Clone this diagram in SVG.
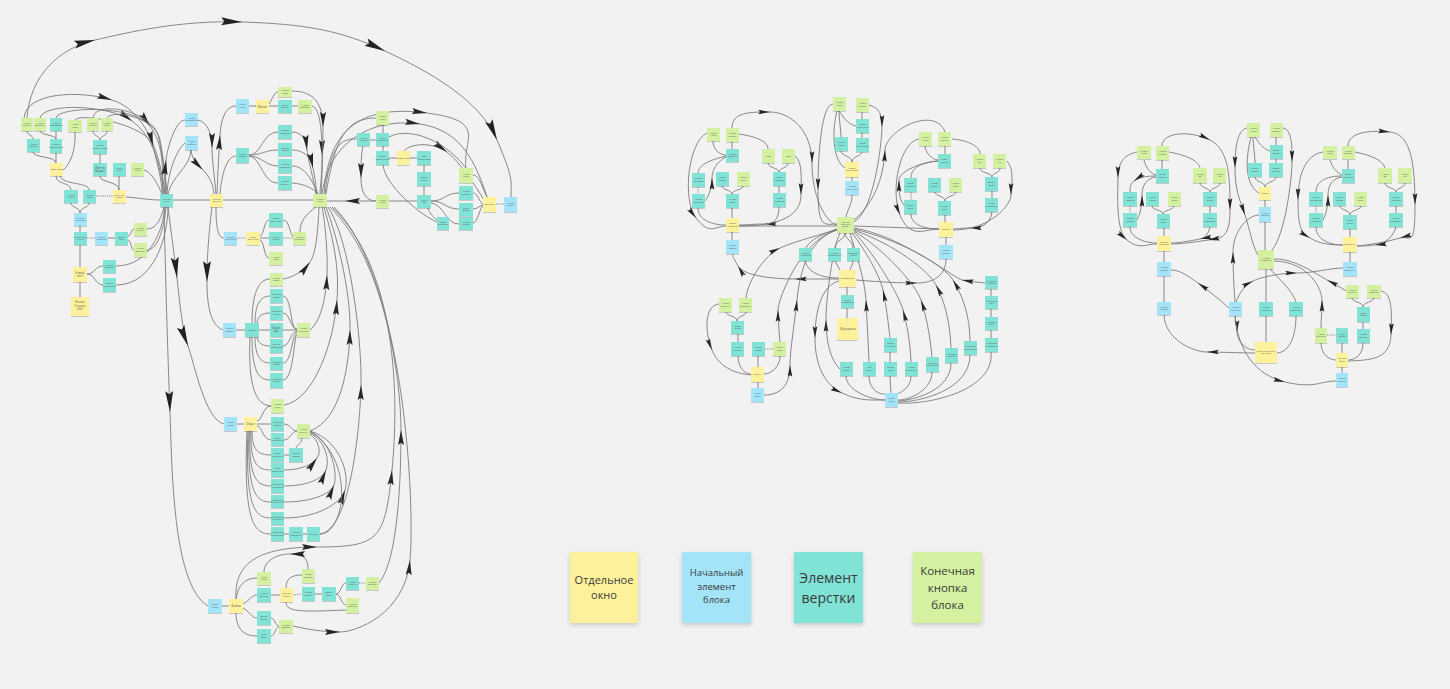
<svg xmlns="http://www.w3.org/2000/svg" width="1450" height="689" viewBox="0 0 1450 689">
<defs>
<style>
text{font-family:"Open Sans","Liberation Sans",sans-serif;font-size:2px;fill:#555;text-anchor:middle}
.y{fill:#fdf29b}.b{fill:#a3e4f9}.t{fill:#81e2d6}.g{fill:#d4f0a1}
.n rect{filter:url(#sh)}
.c{fill:none;stroke:#7c7c7c;stroke-width:0.9}
.d{stroke-dasharray:1.2 1}
.a{marker-mid:url(#am)}
.m{marker-mid:url(#amd)}
.A{marker-mid:url(#aM)}
.lg rect{filter:url(#sh2)}
.lg text{fill:#3a3a3a}
</style>
<filter id="sh" x="-20%" y="-20%" width="140%" height="150%"><feDropShadow dx="0" dy="0.8" stdDeviation="0.5" flood-color="#000" flood-opacity="0.22"/></filter>
<filter id="sh2" x="-20%" y="-20%" width="140%" height="140%"><feDropShadow dx="0" dy="2" stdDeviation="2" flood-color="#000" flood-opacity="0.18"/></filter>
<marker id="am" viewBox="-11 -3 12 6" refX="0" refY="0" markerWidth="14" markerHeight="7" markerUnits="userSpaceOnUse" orient="auto"><path d="M0,0 L-10,-2 L-8.5,0 L-10,2 Z" fill="#262626"/></marker>
<marker id="amd" viewBox="-11 -3 12 6" refX="0" refY="0" markerWidth="18" markerHeight="9" markerUnits="userSpaceOnUse" orient="auto"><path d="M0,0 L-10,-2 L-8.5,0 L-10,2 Z" fill="#262626"/></marker>
<marker id="aM" viewBox="-11 -3 12 6" refX="0" refY="0" markerWidth="25" markerHeight="12.5" markerUnits="userSpaceOnUse" orient="auto"><path d="M0,0 L-10,-1.9 L-8.5,0 L-10,1.9 Z" fill="#222"/></marker>
</defs>
<rect width="1450" height="689" fill="#f2f2f2"/>

<g id="connectors">
<!-- LEFT TREE -->
<path class="c A" d="M27,118 C30,75 60,48 95,40 S180,20 242,22 S340,30 385,51 S480,100 497,140 S511,180 511,197"/>
<path class="c m" d="M24,118 C26,92 80,90 112,100 S160,150 165,194"/>
<path class="c m" d="M40,118 C44,102 110,105 132,121 S160,165 164,194"/>
<path class="c m" d="M56,118 C58,106 135,105 150,126 S162,170 163,194"/>
<path class="c m" d="M75,120 C80,112 148,125 153,146 S162,180 162,194"/>
<path class="c" d="M93,118 C95,100 150,110 158,135 C162,150 165,175 166,194"/>
<path class="c" d="M107,118 C110,110 155,115 160,140 C163,155 166,180 167,194"/>
<path class="c" d="M27,131 C27,135 33,135 33,139"/>
<path class="c" d="M40,131 C40,135 56,135 56,139"/>
<path class="c" d="M56,131 L56,139"/>
<path class="c" d="M33,152 C33,158 56,156 56,163"/>
<path class="c" d="M56,153 L56,163"/>
<path class="c" d="M93,131 C93,136 100,136 100,140"/>
<path class="c" d="M107,131 C107,136 100,136 100,140"/>
<path class="c" d="M100,154 L100,163"/>
<path class="c" d="M100,176 C100,183 119,181 119,190"/>
<path class="c" d="M119,176 L119,190"/>
<path class="c" d="M144,170 C152,172 158,185 162,194"/>
<path class="c" d="M75,132 C76,150 70,165 63,170"/>
<path class="c" d="M56,176 C56,185 71,182 71,190"/>
<path class="c" d="M60,176 C62,185 89,182 89,190"/>
<path class="c d" d="M96,196 L113,196"/>
<path class="c" d="M126,197 C140,198 150,200 160,200"/>
<path class="c" d="M71,203 C71,208 80,207 80,213"/>
<path class="c" d="M89,203 C89,208 80,207 80,213"/>
<path class="c" d="M80,226 L80,232"/>
<path class="c d" d="M87,238 L95,238"/>
<path class="c" d="M108,238 L115,238"/>
<path class="c" d="M128,236 C131,236 131,229 134,229"/>
<path class="c" d="M128,240 C131,240 131,250 134,250"/>
<path class="c" d="M147,229 C158,229 162,215 164,207"/>
<path class="c" d="M147,250 C160,250 165,220 166,207"/>
<path class="c" d="M80,267 L80,245"/>
<path class="c" d="M80,297 L80,282"/>
<path class="c" d="M87,274 C95,274 95,266 103,266"/>
<path class="c" d="M87,274 C95,274 95,285 103,285"/>
<path class="c" d="M116,266 C150,266 163,230 165,207"/>
<path class="c" d="M116,285 C155,285 168,235 168,207"/>
<path class="c" d="M173,200 L210,200"/>
<path class="c" d="M223,200 L313,200"/>
<path class="c m" d="M376,201 L345,201 L327,201"/>
<path class="c m" d="M165,194 C165,180 165,170 166,160 S175,120 185,120"/>
<path class="c" d="M167,194 C168,170 178,148 185,143"/>
<path class="c m" d="M198,120 C208,122 212,135 212,148 S215,180 216,194"/>
<path class="c m" d="M191,150 C192,160 198,165 203,170 S213,182 214,194"/>
<path class="c" d="M191,150 C190,168 172,175 168,194"/>
<path class="c m" d="M217,194 C218,170 219,150 220,135 S225,106 236,106"/>
<path class="c" d="M220,194 C222,170 228,156 236,156"/>
<path class="c" d="M249,106 L256,106"/>
<path class="c" d="M269,106 L278,106"/>
<path class="c" d="M269,104 C272,100 274,92 278,92"/>
<path class="c" d="M292,106 L298,106"/>
<path class="c m" d="M312,106 C320,108 322,130 322,155 S320,185 320,194"/>
<path class="c m" d="M292,91 C315,91 323,105 323,127 S322,180 321,194"/>
<path class="c" d="M249,155 C262,155 262,132 278,132"/>
<path class="c" d="M249,155 C262,155 265,150 278,150"/>
<path class="c" d="M249,156 C262,156 265,166 278,166"/>
<path class="c" d="M249,156 C262,158 262,183 278,183"/>
<path class="c m" d="M292,132 C302,132 306,140 307,150 S314,180 316,194"/>
<path class="c m" d="M292,150 C305,150 311,158 313,168 S316,185 317,194"/>
<path class="c" d="M292,166 C305,166 312,180 318,194"/>
<path class="c" d="M292,183 C305,184 312,188 318,194"/>
<path class="c" d="M326,194 C335,140 345,118 376,118"/>
<path class="c" d="M325,194 C330,150 338,138 357,139"/>
<path class="c m" d="M324,194 C328,125 365,105 427,113 S462,140 466,168"/>
<path class="c m" d="M322,194 C330,135 380,118 420,124 S475,160 487,197"/>
<path class="c m" d="M404,151 C412,142 435,143 447,152 S475,185 484,200"/>
<path class="c" d="M389,137 C405,128 440,135 466,168"/>
<path class="c" d="M383,125 L383,133"/>
<path class="c" d="M370,140 L376,140"/>
<path class="c m" d="M363,146 C361,155 361,165 361,178 S365,201 376,201"/>
<path class="c" d="M383,146 L383,151"/>
<path class="c" d="M389,158 L397,158"/>
<path class="c" d="M410,158 L417,158"/>
<path class="c" d="M424,172 L424,165"/>
<path class="c" d="M424,186 L424,195"/>
<path class="c" d="M389,201 L417,201"/>
<path class="c" d="M431,201 C445,201 445,193 459,193"/>
<path class="c" d="M431,201 C445,201 445,209 459,209"/>
<path class="c" d="M431,203 C445,205 445,224 459,224"/>
<path class="c" d="M428,208 C430,215 434,217 437,220"/>
<path class="c" d="M473,193 C478,193 480,204 483,204"/>
<path class="c" d="M473,209 C478,209 480,205 483,205"/>
<path class="c" d="M473,223 C478,223 480,206 483,206"/>
<path class="c" d="M473,175 C480,175 483,190 487,197"/>
<path class="c d" d="M496,204 L504,204"/>
<path class="c" d="M383,165 C385,185 420,215 437,222"/>
<path class="c" d="M316,207 C305,215 300,222 300,232"/>
<path class="c m" d="M283,279 C295,277 304,270 310,262 S318,230 319,207"/>
<path class="c m" d="M310,330 C322,320 326,295 327,275 S325,220 322,207"/>
<path class="c m" d="M284,405 C315,400 334,340 337,300 S330,230 324,207"/>
<path class="c m" d="M310,431 C340,420 349,370 350,330 S335,230 326,207"/>
<path class="c m" d="M320,534 C350,530 360,430 361,385 S350,240 328,207"/>
<path class="c m" d="M379,583 C398,560 401,480 401,430 S385,260 330,207"/>
<path class="c m" d="M236,599 C234,565 255,547 317,547 S385,540 392,470 S398,270 332,207"/>
<path class="c m" d="M293,626 C310,630 325,632 340,632 S405,615 410,560 S405,280 334,207"/>
<path class="c A" d="M168,207 C172,240 175,260 177,278 S182,330 188,346 S205,420 224,424"/>
<path class="c A" d="M164,207 C166,300 168,360 170,412 S172,585 208,606"/>
<path class="c A" d="M212,207 C208,240 207,260 207,282 S210,325 223,330"/>
<path class="c" d="M216,207 C216,228 218,238 224,238"/>
<path class="c d" d="M237,238 L246,238"/>
<path class="c" d="M260,236 C264,236 264,220 269,220"/>
<path class="c" d="M260,238 L269,238"/>
<path class="c" d="M260,240 C264,240 264,258 269,258"/>
<path class="c" d="M283,220 C290,220 290,236 293,236"/>
<path class="c d" d="M283,238 L293,238"/>
<path class="c" d="M236,330 L245,330"/>
<path class="c" d="M259,330 L270,330"/>
<path class="c" d="M252,323 C252,295 258,279 270,279"/>
<path class="c" d="M255,323 C255,305 260,296 270,296"/>
<path class="c" d="M257,323 C258,316 262,313 270,313"/>
<path class="c" d="M257,337 C258,343 262,346 270,346"/>
<path class="c" d="M255,337 C255,355 260,363 270,363"/>
<path class="c" d="M252,337 C252,370 258,380 270,380"/>
<path class="c" d="M250,337 C248,385 255,405 271,406"/>
<path class="c" d="M283,296 C292,296 290,330 297,330"/>
<path class="c" d="M283,313 C290,313 290,328 297,329"/>
<path class="c" d="M283,330 L297,330"/>
<path class="c" d="M283,346 C290,346 290,332 297,331"/>
<path class="c" d="M283,363 C292,363 292,333 297,332"/>
<path class="c" d="M283,380 C294,380 294,334 297,334"/>
<path class="c" d="M237,424 L244,424"/>
<path class="c" d="M257,421 C262,421 263,406 271,406"/>
<path class="c" d="M257,424 L271,424"/>
<path class="c" d="M257,426 C262,426 263,440 271,440"/>
<path class="c" d="M252,431 C252,450 258,455 271,455"/>
<path class="c" d="M251,431 C250,465 258,470 271,470"/>
<path class="c" d="M250,431 C248,480 258,486 271,486"/>
<path class="c" d="M249,431 C247,495 257,502 271,502"/>
<path class="c" d="M248,431 C245,510 256,518 271,518"/>
<path class="c" d="M247,431 C243,525 255,534 271,534"/>
<path class="c" d="M284,424 C290,424 292,431 297,431"/>
<path class="c" d="M284,440 C290,440 292,431 297,431"/>
<path class="c" d="M302,438 C302,443 297,445 296,448"/>
<path class="c" d="M284,455 L289,455"/>
<path class="c m" d="M284,470 C300,470 312,465 317,458 S318,440 310,434"/>
<path class="c m" d="M284,486 C305,486 322,480 326,470 S325,440 310,433"/>
<path class="c m" d="M284,502 C310,502 330,495 334,485 S332,440 310,432"/>
<path class="c m" d="M284,518 C315,518 340,505 345,490 S340,440 310,431"/>
<path class="c" d="M320,534 C345,534 356,460 310,431"/>
<path class="c" d="M284,534 L289,534"/>
<path class="c" d="M303,534 L307,534"/>
<path class="c" d="M222,606 L229,606"/>
<path class="c" d="M236,599 C238,585 245,578 257,578"/>
<path class="c" d="M243,604 C250,600 252,595 257,595"/>
<path class="c" d="M243,608 C250,612 252,618 257,618"/>
<path class="c" d="M236,613 C236,630 245,636 257,636"/>
<path class="c" d="M271,595 L280,595"/>
<path class="c d" d="M293,595 L302,594"/>
<path class="c" d="M315,594 L322,594"/>
<path class="c" d="M336,594 C341,594 341,583 346,583"/>
<path class="c" d="M336,594 C341,594 341,605 346,605"/>
<path class="c d" d="M359,583 L366,583"/>
<path class="c" d="M286,588 C286,578 292,575 302,575"/>
<path class="c" d="M286,602 C286,612 300,612 346,610"/>
<path class="c m" d="M308,569 C308,557 302,554 290,554 S264,560 264,572"/>
<path class="c" d="M271,618 C275,618 275,626 279,626"/>
<path class="c" d="M271,636 C275,636 275,627 279,627"/>

<!-- MIDDLE GRAPH -->
<path class="c" d="M713,141 C713,150 720,155 726,155"/>
<path class="c" d="M732,142 L732,149"/>
<path class="c" d="M739,134 C752,136 768,140 768,149"/>
<path class="c" d="M726,156 C710,160 698,165 698,173"/>
<path class="c a" d="M705,201 C710,195 712,185 712,178 S716,162 726,157"/>
<path class="c" d="M722,186 C722,190 732,190 732,194"/>
<path class="c" d="M743,186 C743,190 732,190 732,194"/>
<path class="c d" d="M698,187 L698,194"/>
<path class="c" d="M732,208 L732,218"/>
<path class="c" d="M698,208 C698,220 712,225 726,225"/>
<path class="c a" d="M707,133 C688,142 682,200 696,218 S715,226 726,226"/>
<path class="c a" d="M732,128 C732,112 750,112 770,112 S812,130 812,163 S825,222 837,225"/>
<path class="c a" d="M833,104 C822,104 818,150 818,190 S825,224 837,224"/>
<path class="c" d="M768,163 C768,168 779,168 779,172"/>
<path class="c" d="M788,163 C788,168 779,168 779,172"/>
<path class="c" d="M779,186 L779,193"/>
<path class="c a" d="M779,207 C779,218 775,224 765,224 S745,225 739,225"/>
<path class="c a" d="M795,156 C803,162 801,180 801,195 S790,226 739,226"/>
<path class="c" d="M739,226 L837,226"/>
<path class="c" d="M732,232 L732,240"/>
<path class="c" d="M839,111 C839,120 841,130 841,137"/>
<path class="c" d="M839,111 C845,120 850,125 856,126"/>
<path class="c" d="M837,111 C832,130 832,160 845,168"/>
<path class="c" d="M862,112 L862,119"/>
<path class="c" d="M862,133 L862,138"/>
<path class="c" d="M841,151 C841,156 852,156 852,162"/>
<path class="c" d="M862,152 C862,156 852,156 852,162"/>
<path class="c" d="M852,177 L852,181"/>
<path class="c" d="M852,195 C852,205 847,210 846,217"/>
<path class="c a" d="M869,105 C880,108 882,115 882,127 S875,210 854,222"/>
<path class="c a" d="M854,220 C878,200 884,170 885,150 S935,105 945,132"/>
<path class="c" d="M925,146 C925,152 932,160 938,160"/>
<path class="c" d="M945,146 L945,154"/>
<path class="c" d="M952,139 C965,140 980,145 980,154"/>
<path class="c" d="M938,161 C920,163 911,168 911,178"/>
<path class="c a" d="M904,205 C898,198 899,188 899,180 S920,162 938,161"/>
<path class="c d" d="M911,192 L911,200"/>
<path class="c" d="M935,192 C935,196 945,196 945,201"/>
<path class="c" d="M956,192 C956,196 945,196 945,201"/>
<path class="c" d="M945,215 L945,222"/>
<path class="c" d="M911,214 C911,225 925,229 939,229"/>
<path class="c a" d="M919,139 C900,142 890,190 900,215 S925,229 939,229"/>
<path class="c" d="M980,168 C980,173 992,173 992,177"/>
<path class="c" d="M1000,168 C1000,173 992,173 992,177"/>
<path class="c" d="M992,191 L992,198"/>
<path class="c a" d="M992,212 C990,225 980,228 970,228 S958,229 953,229"/>
<path class="c a" d="M1007,161 C1015,170 1011,185 1011,195 S990,230 953,230"/>
<path class="c" d="M939,229 L854,226"/>
<path class="c" d="M946,237 L946,245"/>
<path class="c" d="M837,229 C820,235 810,240 806,248"/>
<path class="c" d="M845,233 C845,240 835,240 835,248"/>
<path class="c" d="M845,233 C845,240 853,240 853,248"/>
<path class="c" d="M805,261 C808,272 820,278 839,278"/>
<path class="c" d="M835,261 L840,270"/>
<path class="c" d="M853,261 C853,265 850,268 850,270"/>
<path class="c" d="M847,287 L847,295"/>
<path class="c" d="M847,318 L847,308"/>
<path class="c a" d="M856,280 C880,282 900,283 917,283 S946,275 946,259"/>
<path class="c a" d="M839,281 C822,285 815,310 815,338 S825,385 842,393 S870,400 885,400"/>
<path class="c a" d="M839,279 C820,279 805,279 795,279 S745,278 738,266 S733,256 733,254"/>
<path class="c a" d="M764,395 C785,395 790,380 790,365 S795,320 797,300 S805,240 837,230"/>
<path class="c a" d="M780,342 C779,330 778,320 778,310 S800,240 837,230"/>
<path class="c a" d="M746,298 C748,280 765,255 780,248 S825,234 837,229"/>
<path class="c a" d="M869,362 C868,340 867,320 866,300 S855,250 850,233"/>
<path class="c a" d="M890,338 C888,320 886,305 883,290 S862,245 852,233"/>
<path class="c" d="M890,352 L890,362"/>
<path class="c a" d="M911,362 C910,340 907,325 903,310 S875,255 854,232"/>
<path class="c a" d="M932,357 C930,335 926,315 921,300 S885,250 854,231"/>
<path class="c a" d="M951,348 C950,320 944,300 936,285 S895,245 854,230"/>
<path class="c a" d="M970,341 C970,315 962,295 953,280 S900,240 854,229"/>
<path class="c a" d="M985,283 C975,282 968,281 962,280 S900,235 854,228"/>
<path class="c a" d="M840,369 C830,360 826,340 826,320 S832,250 840,233"/>
<path class="c" d="M991,289 L991,296"/>
<path class="c" d="M991,309 L991,317"/>
<path class="c" d="M991,330 L991,338"/>
<path class="c" d="M846,376 C846,390 870,400 885,400"/>
<path class="c" d="M869,376 C869,390 880,395 886,394"/>
<path class="c" d="M890,376 L891,393"/>
<path class="c" d="M911,376 C911,388 900,393 897,394"/>
<path class="c" d="M932,372 C932,390 910,400 898,400"/>
<path class="c" d="M951,363 C951,390 915,400 898,401"/>
<path class="c" d="M970,355 C970,390 920,402 898,402"/>
<path class="c" d="M991,352 C995,390 930,405 898,403"/>
<path class="c" d="M726,312 C726,316 737,316 737,321"/>
<path class="c" d="M746,312 C746,316 737,316 737,321"/>
<path class="c" d="M738,342 L738,334"/>
<path class="c" d="M738,356 C738,368 745,374 751,374"/>
<path class="c d" d="M765,349 L773,349"/>
<path class="c" d="M758,356 L758,367"/>
<path class="c" d="M758,382 L758,388"/>
<path class="c a" d="M719,304 C705,305 704,330 712,350 S740,374 751,375"/>
<path class="c" d="M780,356 C780,368 770,374 764,374"/>

<!-- RIGHT GRAPH -->
<path class="c a" d="M1247,128 C1238,130 1235,145 1235,168 S1240,200 1245,215 S1252,245 1258,255"/>
<path class="c" d="M1253,137 C1253,145 1255,155 1255,163"/>
<path class="c" d="M1255,137 C1260,145 1265,150 1270,151"/>
<path class="c" d="M1251,137 C1245,160 1245,185 1259,193"/>
<path class="c" d="M1276,137 L1276,145"/>
<path class="c a" d="M1283,128 C1292,130 1292,145 1292,162 S1285,235 1272,250"/>
<path class="c" d="M1276,159 L1276,163"/>
<path class="c" d="M1255,177 C1255,182 1265,182 1265,187"/>
<path class="c" d="M1276,177 C1276,182 1265,182 1265,187"/>
<path class="c" d="M1265,200 L1265,207"/>
<path class="c" d="M1265,222 L1265,250"/>
<path class="c a" d="M1235,302 C1234,290 1233,270 1233,252 S1245,216 1259,215"/>
<path class="c" d="M1144,160 C1146,168 1150,173 1156,175"/>
<path class="c" d="M1162,160 L1162,169"/>
<path class="c" d="M1169,152 C1185,155 1198,160 1200,168"/>
<path class="c a" d="M1162,146 C1162,132 1190,130 1210,140 S1230,180 1230,210 S1220,238 1208,240 S1180,244 1171,244"/>
<path class="c a" d="M1156,176 C1145,176 1138,178 1134,181 S1130,188 1130,192"/>
<path class="c" d="M1152,206 C1152,210 1163,210 1163,214"/>
<path class="c" d="M1174,206 C1174,210 1163,210 1163,214"/>
<path class="c" d="M1164,228 L1164,236"/>
<path class="c d" d="M1130,206 L1130,213"/>
<path class="c a" d="M1137,220 C1141,212 1142,205 1142,195 S1147,178 1156,177"/>
<path class="c" d="M1130,227 C1130,238 1145,243 1157,243"/>
<path class="c a" d="M1137,152 C1122,155 1118,165 1118,178 S1115,230 1127,240 S1145,244 1157,244"/>
<path class="c" d="M1200,183 C1200,188 1210,188 1210,192"/>
<path class="c" d="M1220,183 C1220,188 1210,188 1210,192"/>
<path class="c" d="M1210,206 L1210,213"/>
<path class="c a" d="M1210,227 C1208,235 1205,238 1200,239 S1180,243 1171,243"/>
<path class="c" d="M1164,251 L1164,262"/>
<path class="c" d="M1164,276 L1164,302"/>
<path class="c a" d="M1229,308 C1220,300 1208,290 1198,283 S1180,270 1171,270"/>
<path class="c a" d="M1255,353 C1240,353 1220,352 1207,352 S1165,340 1164,315"/>
<path class="c a" d="M1236,302 C1240,292 1245,285 1253,281 S1280,273 1297,273 S1330,268 1343,268"/>
<path class="c a" d="M1346,291 C1340,287 1333,283 1327,280 S1295,258 1274,259"/>
<path class="c a" d="M1321,328 C1321,320 1322,310 1322,300 S1310,262 1274,261"/>
<path class="c" d="M1266,269 L1266,302"/>
<path class="c" d="M1270,269 C1280,280 1292,290 1296,302"/>
<path class="c" d="M1266,316 L1266,342"/>
<path class="c" d="M1296,316 C1296,335 1290,352 1277,353"/>
<path class="c a" d="M1235,316 C1236,322 1237,327 1237,332 S1242,350 1255,350"/>
<path class="c a" d="M1235,316 C1238,350 1255,375 1285,382 S1320,381 1336,381"/>
<path class="c" d="M1330,160 C1332,168 1338,173 1342,175"/>
<path class="c" d="M1348,160 L1348,169"/>
<path class="c" d="M1355,152 C1370,155 1383,160 1385,168"/>
<path class="c" d="M1342,176 C1325,176 1316,182 1316,192"/>
<path class="c d" d="M1316,206 L1316,213"/>
<path class="c a" d="M1323,220 C1327,212 1328,205 1328,195 S1333,178 1342,177"/>
<path class="c" d="M1340,206 C1340,210 1350,210 1350,215"/>
<path class="c" d="M1361,206 C1361,210 1350,210 1350,215"/>
<path class="c" d="M1350,229 L1350,237"/>
<path class="c" d="M1316,227 C1316,240 1330,245 1343,245"/>
<path class="c a" d="M1323,152 C1305,155 1298,175 1298,200 S1300,232 1310,238 S1330,245 1343,245"/>
<path class="c" d="M1385,183 C1385,188 1396,188 1396,192"/>
<path class="c" d="M1405,183 C1405,188 1396,188 1396,192"/>
<path class="c" d="M1396,206 L1396,213"/>
<path class="c a" d="M1396,227 C1393,237 1385,244 1375,245 S1362,246 1357,246"/>
<path class="c a" d="M1348,146 C1348,132 1370,130 1390,132 S1415,160 1415,205 S1410,235 1400,238 S1370,245 1357,246"/>
<path class="c" d="M1350,252 L1350,262"/>
<path class="c" d="M1352,298 C1352,302 1363,302 1363,307"/>
<path class="c" d="M1374,298 C1374,302 1363,302 1363,307"/>
<path class="c" d="M1363,322 L1363,329"/>
<path class="c d" d="M1327,335 L1336,335"/>
<path class="c" d="M1342,343 L1342,353"/>
<path class="c" d="M1321,343 C1321,355 1330,360 1336,360"/>
<path class="c" d="M1363,343 C1363,355 1355,360 1348,360"/>
<path class="c" d="M1342,367 L1342,373"/>
<path class="c a" d="M1381,291 C1392,293 1392,310 1391,335 S1370,360 1348,361"/>
</g>

<!-- LEFT TREE NODES -->
<g id="L1" class="n"><rect class="g" x="21" y="118" width="12" height="13"/><text x="27" y="123.9">Кнопка<tspan x="27" dy="2.4">Открыть</tspan></text></g>
<g id="L2" class="n"><rect class="g" x="34" y="118" width="12" height="13"/><text x="40" y="123.9">Кнопка<tspan x="40" dy="2.4">Поделиться</tspan></text></g>
<g id="L3" class="n"><rect class="t" x="50" y="118" width="12" height="13"/><text x="56" y="123.9">Кнопка<tspan x="56" dy="2.4">Комментарии</tspan></text></g>
<g id="L4" class="n"><rect class="g" x="68" y="120" width="14" height="12"/><text x="75" y="125.4">Кнопка<tspan x="75" dy="2.4">Назад</tspan></text></g>
<g id="L5" class="n"><rect class="g" x="87" y="118" width="12" height="13"/><text x="93" y="123.9">Кнопка<tspan x="93" dy="2.4">Открыть</tspan></text></g>
<g id="L6" class="n"><rect class="g" x="101" y="118" width="12" height="13"/><text x="107" y="123.9">Кнопка<tspan x="107" dy="2.4">Лайк</tspan></text></g>
<g id="L7" class="n"><rect class="t" x="27" y="139" width="13" height="13"/><text x="33.5" y="144.9">Кнопка<tspan x="33.5" dy="2.4">Ответить</tspan></text></g>
<g id="L8" class="n"><rect class="t" x="50" y="139" width="12" height="14"/><text x="56" y="145.4">Список<tspan x="56" dy="2.4">комментариев</tspan></text></g>
<g id="L9" class="n"><rect class="t" x="93" y="140" width="14" height="14"/><text x="100" y="146.4">Кнопка<tspan x="100" dy="2.4">Выбрать видео</tspan></text></g>
<g id="L10" class="n"><rect class="y" x="50" y="163" width="13" height="13"/><text x="56.5" y="170.3">Комментарии</text></g>
<g id="L11" class="n"><rect class="t" x="93" y="163" width="14" height="13"/><text x="100" y="168.5" style="font-size:3.2px">Лента<tspan x="100" dy="3.5">Видео</tspan></text></g>
<g id="L12" class="n"><rect class="t" x="113" y="163" width="13" height="13"/><text x="119.5" y="168.9">Кнопка<tspan x="119.5" dy="2.4">Лайк</tspan></text></g>
<g id="L13" class="n"><rect class="g" x="131" y="163" width="13" height="13"/><text x="137.5" y="168.9">Кнопка<tspan x="137.5" dy="2.4">Назад</tspan></text></g>
<g id="L14" class="n"><rect class="t" x="64" y="190" width="14" height="13"/><text x="71" y="195.9">Кнопка<tspan x="71" dy="2.4">Фильтр</tspan></text></g>
<g id="L15" class="n"><rect class="t" x="83" y="190" width="13" height="13"/><text x="89.5" y="195.9">Кнопка<tspan x="89.5" dy="2.4">Поиск</tspan></text></g>
<g id="L16" class="n"><rect class="y" x="113" y="190" width="13" height="13"/><text x="119.5" y="195.9">Результаты<tspan x="119.5" dy="2.4">поиска</tspan></text></g>
<g id="L17" class="n"><rect class="b" x="74" y="213" width="13" height="13"/><text x="80.5" y="218.9">Кнопка<tspan x="80.5" dy="2.4">Новый пост</tspan></text></g>
<g id="L18" class="n"><rect class="t" x="74" y="232" width="13" height="13"/><text x="80.5" y="237.9">Публикация<tspan x="80.5" dy="2.4">в ленте</tspan></text></g>
<g id="L19" class="n"><rect class="b" x="95" y="232" width="13" height="13"/><text x="101.5" y="237.9">Кнопка<tspan x="101.5" dy="2.4">Вложения</tspan></text></g>
<g id="L20" class="n"><rect class="t" x="115" y="232" width="13" height="13"/><text x="121.5" y="237.9">Выбрать<tspan x="121.5" dy="2.4">файл</tspan></text></g>
<g id="L21" class="n"><rect class="g" x="134" y="223" width="13" height="13"/><text x="140.5" y="228.9">Кнопка<tspan x="140.5" dy="2.4">Открыть</tspan></text></g>
<g id="L22" class="n"><rect class="g" x="134" y="243" width="13" height="14"/><text x="140.5" y="249.4">Кнопка<tspan x="140.5" dy="2.4">Отменить</tspan></text></g>
<g id="L23" class="n"><rect class="t" x="103" y="260" width="13" height="13"/><text x="109.5" y="265.9">Кнопка<tspan x="109.5" dy="2.4">Прочитать</tspan></text></g>
<g id="L24" class="n"><rect class="y" x="73" y="267" width="14" height="15"/><text x="80" y="273.5" style="font-size:2.8px">Новый<tspan x="80" dy="3.2">пост</tspan></text></g>
<g id="L25" class="n"><rect class="t" x="103" y="278" width="13" height="14"/><text x="109.5" y="284.4">Список<tspan x="109.5" dy="2.4">прочитавших</tspan></text></g>
<g id="L26" class="n"><rect class="y" x="71" y="297" width="18" height="19"/><text x="80" y="303.3" style="font-size:2.8px">Кнопка<tspan x="80" dy="3.3">Создать</tspan><tspan x="80" dy="3.3">пост</tspan></text></g>
<g id="L27" class="n"><rect class="t" x="160" y="194" width="13" height="13"/><text x="166.5" y="199.9">Главная<tspan x="166.5" dy="2.4">Лента</tspan></text></g>
<g id="L28" class="n"><rect class="b" x="185" y="113" width="13" height="13"/><text x="191.5" y="118.9">Кнопка<tspan x="191.5" dy="2.4">уведомлений</tspan></text></g>
<g id="L29" class="n"><rect class="b" x="185" y="136" width="13" height="14"/><text x="191.5" y="142.4">Кнопка<tspan x="191.5" dy="2.4">профиля</tspan></text></g>
<g id="L30" class="n"><rect class="y" x="210" y="194" width="13" height="13"/><text x="216.5" y="199.9">Главная<tspan x="216.5" dy="2.4">страница</tspan></text></g>
<g id="L31" class="n"><rect class="b" x="236" y="99" width="13" height="14"/><text x="242.5" y="105.4">Кнопка<tspan x="242.5" dy="2.4">Меню</tspan></text></g>
<g id="L32" class="n"><rect class="y" x="256" y="100" width="13" height="13"/><text x="262.5" y="107.6" style="font-size:3.2px">Меню</text></g>
<g id="L33" class="n"><rect class="g" x="278" y="87" width="14" height="10"/><text x="285" y="91.4">Кнопка<tspan x="285" dy="2.4">Назад</tspan></text></g>
<g id="L34" class="n"><rect class="t" x="278" y="100" width="14" height="13"/><text x="285" y="105.9">Отдел<tspan x="285" dy="2.4">общего</tspan></text></g>
<g id="L35" class="n"><rect class="g" x="298" y="100" width="14" height="13"/><text x="305" y="105.9">Кнопка<tspan x="305" dy="2.4">Отправить</tspan></text></g>
<g id="L36" class="n"><rect class="t" x="236" y="148" width="13" height="15"/><text x="242.5" y="154.9">Список<tspan x="242.5" dy="2.4">новостей</tspan></text></g>
<g id="L37" class="n"><rect class="t" x="278" y="125" width="14" height="14"/><text x="285" y="131.4">Новости<tspan x="285" dy="2.4">Компании</tspan></text></g>
<g id="L38" class="n"><rect class="t" x="278" y="143" width="14" height="13"/><text x="285" y="148.9">Новости<tspan x="285" dy="2.4">Отдела</tspan></text></g>
<g id="L39" class="n"><rect class="t" x="278" y="159" width="14" height="14"/><text x="285" y="165.4">Кнопка<tspan x="285" dy="2.4">Посмотреть</tspan></text></g>
<g id="L40" class="n"><rect class="t" x="278" y="176" width="14" height="14"/><text x="285" y="182.4">Кнопка<tspan x="285" dy="2.4">Открыть</tspan></text></g>
<g id="L41" class="n"><rect class="g" x="313" y="194" width="14" height="13"/><text x="320" y="199.9">Кнопка<tspan x="320" dy="2.4">Назад</tspan></text></g>
<g id="L42" class="n"><rect class="g" x="376" y="111" width="13" height="14"/><text x="382.5" y="117.4">Кнопка<tspan x="382.5" dy="2.4">Назад</tspan></text></g>
<g id="L43" class="n"><rect class="t" x="357" y="133" width="13" height="13"/><text x="363.5" y="138.9">Чтение<tspan x="363.5" dy="2.4">новости</tspan></text></g>
<g id="L44" class="n"><rect class="t" x="376" y="133" width="13" height="13"/><text x="382.5" y="138.9">Кнопка<tspan x="382.5" dy="2.4">Поделиться</tspan></text></g>
<g id="L45" class="n"><rect class="t" x="376" y="151" width="13" height="14"/><text x="382.5" y="157.4">Список<tspan x="382.5" dy="2.4">комментариев</tspan></text></g>
<g id="L46" class="n"><rect class="y" x="397" y="151" width="13" height="14"/><text x="403.5" y="158.8">Комментарии</text></g>
<g id="L47" class="n"><rect class="t" x="417" y="151" width="14" height="14"/><text x="424" y="157.4">Поле<tspan x="424" dy="2.4">комментария</tspan></text></g>
<g id="L48" class="n"><rect class="t" x="417" y="172" width="14" height="14"/><text x="424" y="178.4">Выбор<tspan x="424" dy="2.4">Лайка</tspan></text></g>
<g id="L49" class="n"><rect class="g" x="459" y="168" width="14" height="15"/><text x="466" y="174.9">Кнопка<tspan x="466" dy="2.4">Назад</tspan></text></g>
<g id="L50" class="n"><rect class="g" x="376" y="195" width="13" height="13"/><text x="382.5" y="200.9">Кнопка<tspan x="382.5" dy="2.4">Лайка</tspan></text></g>
<g id="L51" class="n"><rect class="t" x="417" y="195" width="14" height="13"/><text x="424" y="200.9">Кнопка<tspan x="424" dy="2.4">Лайк</tspan></text></g>
<g id="L52" class="n"><rect class="t" x="459" y="186" width="14" height="14"/><text x="466" y="192.4">Кнопка<tspan x="466" dy="2.4">Ответить</tspan></text></g>
<g id="L53" class="n"><rect class="t" x="459" y="203" width="14" height="13"/><text x="466" y="208.9">Отдел<tspan x="466" dy="2.4">Отдела</tspan></text></g>
<g id="L54" class="n"><rect class="y" x="483" y="197" width="13" height="15"/><text x="489.5" y="205.3">Вложения</text></g>
<g id="L55" class="n"><rect class="b" x="504" y="197" width="13" height="15"/><text x="510.5" y="203.9">Кнопка<tspan x="510.5" dy="2.4">Удалить</tspan></text></g>
<g id="L56" class="n"><rect class="t" x="459" y="217" width="14" height="13"/><text x="466" y="222.9">Кнопка<tspan x="466" dy="2.4">Скачать</tspan></text></g>
<g id="L57" class="n"><rect class="t" x="437" y="217" width="12" height="13"/><text x="443" y="222.9">Список<tspan x="443" dy="2.4">вложений</tspan></text></g>
<g id="L58" class="n"><rect class="b" x="224" y="232" width="13" height="13"/><text x="230.5" y="237.9">Кнопка<tspan x="230.5" dy="2.4">Сотрудники</tspan></text></g>
<g id="L59" class="n"><rect class="y" x="246" y="232" width="14" height="13"/><text x="253" y="237.9">Выбор<tspan x="253" dy="2.4">сотрудника</tspan></text></g>
<g id="L60" class="n"><rect class="t" x="269" y="213" width="14" height="14"/><text x="276" y="219.4">Выбор<tspan x="276" dy="2.4">сотрудника</tspan></text></g>
<g id="L61" class="n"><rect class="t" x="269" y="232" width="14" height="13"/><text x="276" y="237.9">Отдел<tspan x="276" dy="2.4">Отдела</tspan></text></g>
<g id="L62" class="n"><rect class="g" x="293" y="232" width="13" height="13"/><text x="299.5" y="237.9">Кнопка<tspan x="299.5" dy="2.4">Сохранить</tspan></text></g>
<g id="L63" class="n"><rect class="g" x="269" y="252" width="14" height="13"/><text x="276" y="257.9">Кнопка<tspan x="276" dy="2.4">Назад</tspan></text></g>
<g id="L64" class="n"><rect class="g" x="270" y="273" width="13" height="13"/><text x="276.5" y="278.9">Кнопка<tspan x="276.5" dy="2.4">Обмен</tspan></text></g>
<g id="L65" class="n"><rect class="t" x="270" y="289" width="13" height="14"/><text x="276.5" y="295.4">Настройки<tspan x="276.5" dy="2.4">Выбор</tspan></text></g>
<g id="L66" class="n"><rect class="t" x="270" y="306" width="13" height="14"/><text x="276.5" y="312.4">Настройки<tspan x="276.5" dy="2.4">Выбор</tspan></text></g>
<g id="L67" class="n"><rect class="b" x="223" y="323" width="13" height="14"/><text x="229.5" y="329.4">Кнопка<tspan x="229.5" dy="2.4">Профиль</tspan></text></g>
<g id="L68" class="n"><rect class="t" x="245" y="323" width="14" height="14"/><text x="252" y="330.8">Профиль</text></g>
<g id="L69" class="n"><rect class="t" x="270" y="323" width="13" height="14"/><text x="276.5" y="329" style="font-size:2.8px">Кабин.<tspan x="276.5" dy="3.2">руб.</tspan></text></g>
<g id="L70" class="n"><rect class="g" x="297" y="323" width="13" height="14"/><text x="303.5" y="329.4">Кнопка<tspan x="303.5" dy="2.4">Сохранить</tspan></text></g>
<g id="L71" class="n"><rect class="t" x="270" y="339" width="13" height="14"/><text x="276.5" y="345.4">Личная<tspan x="276.5" dy="2.4">информация</tspan></text></g>
<g id="L72" class="n"><rect class="t" x="270" y="357" width="13" height="13"/><text x="276.5" y="362.9">Настройки<tspan x="276.5" dy="2.4">Выбор</tspan></text></g>
<g id="L73" class="n"><rect class="t" x="270" y="373" width="13" height="15"/><text x="276.5" y="379.9">Настройки<tspan x="276.5" dy="2.4">Выбор</tspan></text></g>
<g id="L74" class="n"><rect class="g" x="271" y="399" width="13" height="14"/><text x="277.5" y="405.4">Кнопка<tspan x="277.5" dy="2.4">Назад</tspan></text></g>
<g id="L75" class="n"><rect class="b" x="224" y="417" width="13" height="14"/><text x="230.5" y="423.4">Кнопка<tspan x="230.5" dy="2.4">Отдел</tspan></text></g>
<g id="L76" class="n"><rect class="y" x="244" y="417" width="13" height="14"/><text x="250.5" y="425" style="font-size:2.8px">Отдел</text></g>
<g id="L77" class="n"><rect class="t" x="271" y="417" width="13" height="14"/><text x="277.5" y="423.4">Структура<tspan x="277.5" dy="2.4">Отдела</tspan></text></g>
<g id="L78" class="n"><rect class="t" x="271" y="433" width="13" height="13"/><text x="277.5" y="438.9">Отдел<tspan x="277.5" dy="2.4">Маркетинга</tspan></text></g>
<g id="L79" class="n"><rect class="g" x="297" y="424" width="13" height="14"/><text x="303.5" y="430.4">Кнопка<tspan x="303.5" dy="2.4">Открыть</tspan></text></g>
<g id="L80" class="n"><rect class="t" x="271" y="448" width="13" height="14"/><text x="277.5" y="454.4">Отдел<tspan x="277.5" dy="2.4">Маркетинга</tspan></text></g>
<g id="L81" class="n"><rect class="t" x="289" y="448" width="14" height="14"/><text x="296" y="454.4">Список<tspan x="296" dy="2.4">Отдела</tspan></text></g>
<g id="L82" class="n"><rect class="t" x="271" y="463" width="13" height="14"/><text x="277.5" y="469.4">Найти<tspan x="277.5" dy="2.4">сотрудника</tspan></text></g>
<g id="L83" class="n"><rect class="t" x="271" y="479" width="13" height="14"/><text x="277.5" y="485.4">Информация<tspan x="277.5" dy="2.4">о компании</tspan></text></g>
<g id="L84" class="n"><rect class="t" x="271" y="495" width="13" height="13"/><text x="277.5" y="500.9">Информация<tspan x="277.5" dy="2.4">о сотруднике</tspan></text></g>
<g id="L85" class="n"><rect class="t" x="271" y="512" width="13" height="13"/><text x="277.5" y="517.9">Информация<tspan x="277.5" dy="2.4">о контактах</tspan></text></g>
<g id="L86" class="n"><rect class="t" x="271" y="527" width="13" height="14"/><text x="277.5" y="533.4">Информация<tspan x="277.5" dy="2.4">о руководстве</tspan></text></g>
<g id="L87" class="n"><rect class="t" x="289" y="527" width="14" height="14"/><text x="296" y="533.4">Кнопка<tspan x="296" dy="2.4">Подробнее</tspan></text></g>
<g id="L88" class="n"><rect class="t" x="307" y="527" width="13" height="14"/><text x="313.5" y="534.8">Контакты</text></g>
<g id="L89" class="n"><rect class="g" x="257" y="572" width="14" height="13"/><text x="264" y="577.9">Кнопка<tspan x="264" dy="2.4">Назад</tspan></text></g>
<g id="L90" class="n"><rect class="b" x="208" y="599" width="14" height="14"/><text x="215" y="605.4">Кнопка<tspan x="215" dy="2.4">Файлы</tspan></text></g>
<g id="L91" class="n"><rect class="y" x="229" y="599" width="14" height="14"/><text x="236" y="607" style="font-size:2.8px">Файлы</text></g>
<g id="L92" class="n"><rect class="t" x="257" y="588" width="14" height="14"/><text x="264" y="594.4">Кнопка<tspan x="264" dy="2.4">Загрузить</tspan></text></g>
<g id="L93" class="n"><rect class="y" x="280" y="588" width="13" height="14"/><text x="286.5" y="594.4">Загрузка<tspan x="286.5" dy="2.4">файла</tspan></text></g>
<g id="L94" class="n"><rect class="g" x="302" y="569" width="13" height="14"/><text x="308.5" y="575.4">Кнопка<tspan x="308.5" dy="2.4">Выбрать</tspan></text></g>
<g id="L95" class="n"><rect class="t" x="302" y="587" width="13" height="14"/><text x="308.5" y="593.4">Кнопка<tspan x="308.5" dy="2.4">Выбрать</tspan></text></g>
<g id="L96" class="n"><rect class="t" x="322" y="587" width="14" height="14"/><text x="329" y="593.4">Выбрать<tspan x="329" dy="2.4">файл</tspan></text></g>
<g id="L97" class="n"><rect class="t" x="346" y="577" width="13" height="13"/><text x="352.5" y="582.9">Кнопка<tspan x="352.5" dy="2.4">Открыть</tspan></text></g>
<g id="L98" class="n"><rect class="g" x="366" y="577" width="13" height="13"/><text x="372.5" y="582.9">Кнопка<tspan x="372.5" dy="2.4">Отменить</tspan></text></g>
<g id="L99" class="n"><rect class="g" x="346" y="598" width="13" height="15"/><text x="352.5" y="604.9">Кнопка<tspan x="352.5" dy="2.4">Отменить</tspan></text></g>
<g id="L100" class="n"><rect class="t" x="257" y="611" width="14" height="14"/><text x="264" y="617.4">Общие<tspan x="264" dy="2.4">файлы</tspan></text></g>
<g id="L101" class="n"><rect class="g" x="279" y="620" width="14" height="13"/><text x="286" y="625.9">Кнопка<tspan x="286" dy="2.4">Добавить</tspan></text></g>
<g id="L102" class="n"><rect class="t" x="257" y="629" width="14" height="14"/><text x="264" y="635.4">Мои<tspan x="264" dy="2.4">файлы</tspan></text></g>

<!-- MIDDLE NODES -->
<g id="M1" class="n"><rect class="g" x="707" y="128" width="13" height="13"/><text x="713.5" y="133.9">Кнопка<tspan x="713.5" dy="2.4">Назад</tspan></text></g>
<g id="M2" class="n"><rect class="g" x="726" y="128" width="13" height="14"/><text x="732.5" y="134.4">Кнопка<tspan x="732.5" dy="2.4">Выбрать</tspan></text></g>
<g id="M3" class="n"><rect class="t" x="726" y="149" width="13" height="13"/><text x="732.5" y="154.9">Выбор<tspan x="732.5" dy="2.4">категории</tspan></text></g>
<g id="M4" class="n"><rect class="t" x="692" y="173" width="13" height="14"/><text x="698.5" y="179.4">Список<tspan x="698.5" dy="2.4">категорий</tspan></text></g>
<g id="M5" class="n"><rect class="t" x="716" y="172" width="13" height="14"/><text x="722.5" y="178.4">Строка<tspan x="722.5" dy="2.4">Поиска</tspan></text></g>
<g id="M6" class="n"><rect class="g" x="737" y="172" width="13" height="14"/><text x="743.5" y="178.4">Кнопка<tspan x="743.5" dy="2.4">Поиск</tspan></text></g>
<g id="M7" class="n"><rect class="g" x="762" y="149" width="13" height="14"/><text x="768.5" y="157">ООО</text></g>
<g id="M8" class="n"><rect class="g" x="782" y="149" width="13" height="14"/><text x="788.5" y="157">ООО</text></g>
<g id="M9" class="n"><rect class="t" x="773" y="172" width="13" height="14"/><text x="779.5" y="178.4">Выбор<tspan x="779.5" dy="2.4">компании</tspan></text></g>
<g id="M10" class="n"><rect class="t" x="692" y="194" width="13" height="14"/><text x="698.5" y="200.4">Список<tspan x="698.5" dy="2.4">компаний</tspan></text></g>
<g id="M11" class="n"><rect class="t" x="726" y="194" width="13" height="14"/><text x="732.5" y="200.4">Кнопка<tspan x="732.5" dy="2.4">Поиск</tspan></text></g>
<g id="M12" class="n"><rect class="t" x="773" y="193" width="13" height="14"/><text x="779.5" y="199.4">Список<tspan x="779.5" dy="2.4">компаний</tspan></text></g>
<g id="M13" class="n"><rect class="y" x="726" y="218" width="13" height="14"/><text x="732.5" y="224.4">Каталог<tspan x="732.5" dy="2.4">компаний</tspan></text></g>
<g id="M14" class="n"><rect class="b" x="726" y="240" width="13" height="14"/><text x="732.5" y="246.4">Кнопка<tspan x="732.5" dy="2.4">Каталог</tspan></text></g>
<g id="M15" class="n"><rect class="g" x="833" y="97" width="13" height="14"/><text x="839.5" y="103.4">Кнопка<tspan x="839.5" dy="2.4">Назад</tspan></text></g>
<g id="M16" class="n"><rect class="g" x="856" y="98" width="13" height="14"/><text x="862.5" y="104.4">Кнопка<tspan x="862.5" dy="2.4">Выбрать</tspan></text></g>
<g id="M17" class="n"><rect class="t" x="856" y="119" width="13" height="14"/><text x="862.5" y="125.4">Выбор<tspan x="862.5" dy="2.4">сотрудника</tspan></text></g>
<g id="M18" class="n"><rect class="t" x="835" y="137" width="13" height="14"/><text x="841.5" y="143.4">Строка<tspan x="841.5" dy="2.4">Поиска</tspan></text></g>
<g id="M19" class="n"><rect class="t" x="856" y="138" width="13" height="14"/><text x="862.5" y="144.4">Список<tspan x="862.5" dy="2.4">сотрудников</tspan></text></g>
<g id="M20" class="n"><rect class="y" x="845" y="162" width="14" height="15"/><text x="852" y="168.9">Список<tspan x="852" dy="2.4">сотрудников</tspan></text></g>
<g id="M21" class="n"><rect class="b" x="845" y="181" width="14" height="14"/><text x="852" y="187.4">Кнопка<tspan x="852" dy="2.4">Сотрудники</tspan></text></g>
<g id="M22" class="n"><rect class="g" x="837" y="217" width="17" height="16"/><text x="845.5" y="222.6">Главная<tspan x="845.5" dy="2.4">страница</tspan><tspan x="845.5" dy="2.4">Обзор</tspan></text></g>
<g id="M23" class="n"><rect class="t" x="799" y="248" width="13" height="13"/><text x="805.5" y="253.9">Кнопка<tspan x="805.5" dy="2.4">Настройки</tspan></text></g>
<g id="M24" class="n"><rect class="t" x="828" y="248" width="13" height="13"/><text x="834.5" y="253.9">Кнопка<tspan x="834.5" dy="2.4">Уведомления</tspan></text></g>
<g id="M25" class="n"><rect class="t" x="847" y="248" width="13" height="13"/><text x="853.5" y="253.9">Отправить<tspan x="853.5" dy="2.4">Отзыв</tspan></text></g>
<g id="M26" class="n"><rect class="g" x="919" y="132" width="13" height="14"/><text x="925.5" y="138.4">Кнопка<tspan x="925.5" dy="2.4">Назад</tspan></text></g>
<g id="M27" class="n"><rect class="g" x="938" y="132" width="13" height="14"/><text x="944.5" y="138.4">Кнопка<tspan x="944.5" dy="2.4">Выбрать</tspan></text></g>
<g id="M28" class="n"><rect class="t" x="938" y="154" width="13" height="14"/><text x="944.5" y="160.4">Выбор<tspan x="944.5" dy="2.4">проекта</tspan></text></g>
<g id="M29" class="n"><rect class="g" x="973" y="154" width="13" height="14"/><text x="979.5" y="160.4">Кнопка<tspan x="979.5" dy="2.4">Да</tspan></text></g>
<g id="M30" class="n"><rect class="g" x="993" y="154" width="13" height="14"/><text x="999.5" y="160.4">Кнопка<tspan x="999.5" dy="2.4">Нет</tspan></text></g>
<g id="M31" class="n"><rect class="t" x="904" y="178" width="13" height="14"/><text x="910.5" y="184.4">Список<tspan x="910.5" dy="2.4">проектов</tspan></text></g>
<g id="M32" class="n"><rect class="t" x="928" y="178" width="13" height="14"/><text x="934.5" y="184.4">Строка<tspan x="934.5" dy="2.4">Поиска</tspan></text></g>
<g id="M33" class="n"><rect class="g" x="949" y="178" width="13" height="14"/><text x="955.5" y="184.4">Кнопка<tspan x="955.5" dy="2.4">Поиск</tspan></text></g>
<g id="M34" class="n"><rect class="t" x="985" y="177" width="13" height="14"/><text x="991.5" y="183.4">Удалить<tspan x="991.5" dy="2.4">проект</tspan></text></g>
<g id="M35" class="n"><rect class="t" x="904" y="200" width="13" height="14"/><text x="910.5" y="206.4">Список<tspan x="910.5" dy="2.4">задач</tspan></text></g>
<g id="M36" class="n"><rect class="t" x="938" y="201" width="13" height="14"/><text x="944.5" y="207.4">Кнопка<tspan x="944.5" dy="2.4">Поиск</tspan></text></g>
<g id="M37" class="n"><rect class="t" x="985" y="198" width="13" height="14"/><text x="991.5" y="204.4">Кнопка<tspan x="991.5" dy="2.4">Подтвердить</tspan></text></g>
<g id="M38" class="n"><rect class="y" x="939" y="222" width="14" height="15"/><text x="946" y="230.3">Проекты</text></g>
<g id="M39" class="n"><rect class="b" x="939" y="245" width="14" height="14"/><text x="946" y="251.4">Кнопка<tspan x="946" dy="2.4">Проекты</tspan></text></g>
<g id="M40" class="n"><rect class="y" x="839" y="270" width="17" height="17"/><text x="847.5" y="279.3">Уведомления</text></g>
<g id="M41" class="n"><rect class="t" x="841" y="295" width="13" height="13"/><text x="847.5" y="300.9">Список<tspan x="847.5" dy="2.4">уведомлений</tspan></text></g>
<g id="M42" class="n"><rect class="y" x="837" y="318" width="21" height="22"/><text x="847.5" y="330" style="font-size:2.6px">Обсуждения</text></g>
<g id="M43" class="n"><rect class="g" x="719" y="298" width="13" height="14"/><text x="725.5" y="304.4">Кнопка<tspan x="725.5" dy="2.4">Отменить</tspan></text></g>
<g id="M44" class="n"><rect class="g" x="739" y="298" width="13" height="14"/><text x="745.5" y="304.4">Кнопка<tspan x="745.5" dy="2.4">Отправить</tspan></text></g>
<g id="M45" class="n"><rect class="t" x="731" y="321" width="13" height="13"/><text x="737.5" y="326.9">Форма<tspan x="737.5" dy="2.4">отзыва</tspan></text></g>
<g id="M46" class="n"><rect class="t" x="731" y="342" width="13" height="14"/><text x="737.5" y="348.4">Кнопка<tspan x="737.5" dy="2.4">Загрузить</tspan></text></g>
<g id="M47" class="n"><rect class="t" x="752" y="342" width="13" height="14"/><text x="758.5" y="348.4">Строка<tspan x="758.5" dy="2.4">Поиска</tspan></text></g>
<g id="M48" class="n"><rect class="g" x="773" y="342" width="13" height="14"/><text x="779.5" y="348.4">Кнопка<tspan x="779.5" dy="2.4">Поиск</tspan></text></g>
<g id="M49" class="n"><rect class="y" x="751" y="367" width="13" height="15"/><text x="757.5" y="375.3">Отзывы</text></g>
<g id="M50" class="n"><rect class="b" x="751" y="388" width="13" height="14"/><text x="757.5" y="394.4">Кнопка<tspan x="757.5" dy="2.4">Отзыв</tspan></text></g>
<g id="M51" class="n"><rect class="t" x="985" y="276" width="13" height="13"/><text x="991.5" y="281.9">Настройки<tspan x="991.5" dy="2.4">профиля</tspan></text></g>
<g id="M52" class="n"><rect class="t" x="985" y="296" width="13" height="13"/><text x="991.5" y="301.9">Настройки<tspan x="991.5" dy="2.4">темы</tspan></text></g>
<g id="M53" class="n"><rect class="t" x="985" y="317" width="13" height="13"/><text x="991.5" y="322.9">Настройки<tspan x="991.5" dy="2.4">языка</tspan></text></g>
<g id="M54" class="n"><rect class="t" x="985" y="338" width="13" height="14"/><text x="991.5" y="344.4">Настройки<tspan x="991.5" dy="2.4">уведомлений</tspan></text></g>
<g id="M55" class="n"><rect class="t" x="964" y="341" width="13" height="14"/><text x="970.5" y="347.4">Настройки<tspan x="970.5" dy="2.4">безопасности</tspan></text></g>
<g id="M56" class="n"><rect class="t" x="945" y="348" width="13" height="15"/><text x="951.5" y="354.9">Настройки<tspan x="951.5" dy="2.4">доступа</tspan></text></g>
<g id="M57" class="n"><rect class="t" x="926" y="357" width="13" height="15"/><text x="932.5" y="363.9">Настройки<tspan x="932.5" dy="2.4">приватности</tspan></text></g>
<g id="M58" class="n"><rect class="t" x="905" y="362" width="13" height="14"/><text x="911.5" y="368.4">Кнопка<tspan x="911.5" dy="2.4">Избранное</tspan></text></g>
<g id="M59" class="n"><rect class="t" x="884" y="362" width="13" height="14"/><text x="890.5" y="368.4">Список<tspan x="890.5" dy="2.4">чатов</tspan></text></g>
<g id="M60" class="n"><rect class="t" x="884" y="338" width="13" height="14"/><text x="890.5" y="344.4">Список<tspan x="890.5" dy="2.4">контактов</tspan></text></g>
<g id="M61" class="n"><rect class="t" x="863" y="362" width="13" height="14"/><text x="869.5" y="368.4">Мои<tspan x="869.5" dy="2.4">задачи</tspan></text></g>
<g id="M62" class="n"><rect class="t" x="840" y="362" width="13" height="14"/><text x="846.5" y="368.4">Строка<tspan x="846.5" dy="2.4">Поиска</tspan></text></g>
<g id="M63" class="n"><rect class="b" x="885" y="393" width="13" height="14"/><text x="891.5" y="399.4">Кнопка<tspan x="891.5" dy="2.4">Выход</tspan></text></g>

<!-- RIGHT NODES -->
<g id="R1" class="n"><rect class="g" x="1247" y="123" width="13" height="14"/><text x="1253.5" y="129.4">Кнопка<tspan x="1253.5" dy="2.4">Назад</tspan></text></g>
<g id="R2" class="n"><rect class="g" x="1270" y="123" width="13" height="14"/><text x="1276.5" y="129.4">Кнопка<tspan x="1276.5" dy="2.4">Выбрать</tspan></text></g>
<g id="R3" class="n"><rect class="t" x="1270" y="145" width="13" height="14"/><text x="1276.5" y="151.4">Выбор<tspan x="1276.5" dy="2.4">события</tspan></text></g>
<g id="R4" class="n"><rect class="t" x="1248" y="163" width="14" height="14"/><text x="1255" y="169.4">Строка<tspan x="1255" dy="2.4">Поиска</tspan></text></g>
<g id="R5" class="n"><rect class="t" x="1269" y="163" width="14" height="14"/><text x="1276" y="169.4">Список<tspan x="1276" dy="2.4">событий</tspan></text></g>
<g id="R6" class="n"><rect class="y" x="1259" y="187" width="12" height="13"/><text x="1265" y="194.3">Каталог</text></g>
<g id="R7" class="n"><rect class="b" x="1259" y="207" width="12" height="15"/><text x="1265" y="213.9">Кнопка<tspan x="1265" dy="2.4">События</tspan></text></g>
<g id="R8" class="n"><rect class="g" x="1137" y="146" width="14" height="13"/><text x="1144" y="151.9">Кнопка<tspan x="1144" dy="2.4">Назад</tspan></text></g>
<g id="R9" class="n"><rect class="g" x="1156" y="146" width="13" height="14"/><text x="1162.5" y="152.4">Кнопка<tspan x="1162.5" dy="2.4">Выбрать</tspan></text></g>
<g id="R10" class="n"><rect class="t" x="1156" y="169" width="13" height="14"/><text x="1162.5" y="175.4">Выбор<tspan x="1162.5" dy="2.4">новости</tspan></text></g>
<g id="R11" class="n"><rect class="t" x="1123" y="192" width="14" height="14"/><text x="1130" y="198.4">Список<tspan x="1130" dy="2.4">новостей</tspan></text></g>
<g id="R12" class="n"><rect class="t" x="1146" y="192" width="13" height="14"/><text x="1152.5" y="198.4">Строка<tspan x="1152.5" dy="2.4">Поиска</tspan></text></g>
<g id="R13" class="n"><rect class="g" x="1168" y="192" width="13" height="14"/><text x="1174.5" y="198.4">Кнопка<tspan x="1174.5" dy="2.4">Поиск</tspan></text></g>
<g id="R14" class="n"><rect class="g" x="1193" y="168" width="14" height="15"/><text x="1200" y="174.9">Кнопка<tspan x="1200" dy="2.4">Да</tspan></text></g>
<g id="R15" class="n"><rect class="g" x="1213" y="168" width="13" height="15"/><text x="1219.5" y="174.9">Кнопка<tspan x="1219.5" dy="2.4">Нет</tspan></text></g>
<g id="R16" class="n"><rect class="t" x="1203" y="192" width="14" height="14"/><text x="1210" y="198.4">Удалить<tspan x="1210" dy="2.4">новость</tspan></text></g>
<g id="R17" class="n"><rect class="t" x="1123" y="213" width="14" height="14"/><text x="1130" y="219.4">Список<tspan x="1130" dy="2.4">новостей</tspan></text></g>
<g id="R18" class="n"><rect class="t" x="1157" y="214" width="13" height="14"/><text x="1163.5" y="220.4">Кнопка<tspan x="1163.5" dy="2.4">Поиск</tspan></text></g>
<g id="R19" class="n"><rect class="t" x="1203" y="213" width="14" height="14"/><text x="1210" y="219.4">Кнопка<tspan x="1210" dy="2.4">Подтвердить</tspan></text></g>
<g id="R20" class="n"><rect class="y" x="1157" y="236" width="14" height="15"/><text x="1164" y="242.9">Новости<tspan x="1164" dy="2.4">компании</tspan></text></g>
<g id="R21" class="n"><rect class="b" x="1157" y="262" width="14" height="14"/><text x="1164" y="268.4">Кнопка<tspan x="1164" dy="2.4">Новости</tspan></text></g>
<g id="R22" class="n"><rect class="b" x="1157" y="302" width="14" height="13"/><text x="1164" y="307.9">Кнопка<tspan x="1164" dy="2.4">Новости</tspan></text></g>
<g id="R23" class="n"><rect class="g" x="1323" y="146" width="14" height="13"/><text x="1330" y="151.9">Кнопка<tspan x="1330" dy="2.4">Назад</tspan></text></g>
<g id="R24" class="n"><rect class="g" x="1342" y="146" width="13" height="13"/><text x="1348.5" y="151.9">Кнопка<tspan x="1348.5" dy="2.4">Выбрать</tspan></text></g>
<g id="R25" class="n"><rect class="t" x="1342" y="169" width="13" height="14"/><text x="1348.5" y="175.4">Выбор<tspan x="1348.5" dy="2.4">документа</tspan></text></g>
<g id="R26" class="n"><rect class="g" x="1378" y="168" width="14" height="15"/><text x="1385" y="174.9">Кнопка<tspan x="1385" dy="2.4">Да</tspan></text></g>
<g id="R27" class="n"><rect class="g" x="1398" y="168" width="14" height="15"/><text x="1405" y="174.9">Кнопка<tspan x="1405" dy="2.4">Нет</tspan></text></g>
<g id="R28" class="n"><rect class="t" x="1309" y="192" width="14" height="14"/><text x="1316" y="198.4">Список<tspan x="1316" dy="2.4">документов</tspan></text></g>
<g id="R29" class="n"><rect class="t" x="1333" y="192" width="13" height="14"/><text x="1339.5" y="198.4">Строка<tspan x="1339.5" dy="2.4">Поиска</tspan></text></g>
<g id="R30" class="n"><rect class="g" x="1354" y="192" width="13" height="14"/><text x="1360.5" y="198.4">Кнопка<tspan x="1360.5" dy="2.4">Поиск</tspan></text></g>
<g id="R31" class="n"><rect class="t" x="1389" y="192" width="14" height="14"/><text x="1396" y="198.4">Удалить<tspan x="1396" dy="2.4">документ</tspan></text></g>
<g id="R32" class="n"><rect class="t" x="1309" y="213" width="14" height="14"/><text x="1316" y="219.4">Список<tspan x="1316" dy="2.4">шаблонов</tspan></text></g>
<g id="R33" class="n"><rect class="t" x="1343" y="215" width="14" height="14"/><text x="1350" y="221.4">Кнопка<tspan x="1350" dy="2.4">Поиск</tspan></text></g>
<g id="R34" class="n"><rect class="t" x="1389" y="213" width="14" height="14"/><text x="1396" y="219.4">Кнопка<tspan x="1396" dy="2.4">Подтвердить</tspan></text></g>
<g id="R35" class="n"><rect class="y" x="1343" y="237" width="14" height="15"/><text x="1350" y="245.3">Документы</text></g>
<g id="R36" class="n"><rect class="b" x="1343" y="262" width="14" height="14"/><text x="1350" y="268.4">Кнопка<tspan x="1350" dy="2.4">Документы</tspan></text></g>
<g id="R37" class="n"><rect class="g" x="1258" y="250" width="16" height="19"/><text x="1266" y="258.9">Кнопка<tspan x="1266" dy="2.4">Подробнее</tspan></text></g>
<g id="R38" class="n"><rect class="b" x="1229" y="302" width="13" height="14"/><text x="1235.5" y="308.4">Кнопка<tspan x="1235.5" dy="2.4">Структура</tspan></text></g>
<g id="R39" class="n"><rect class="t" x="1259" y="302" width="14" height="14"/><text x="1266" y="308.4">Кнопка<tspan x="1266" dy="2.4">Подробнее</tspan></text></g>
<g id="R40" class="n"><rect class="t" x="1289" y="302" width="14" height="14"/><text x="1296" y="308.4">Кнопка<tspan x="1296" dy="2.4">Сотрудники</tspan></text></g>
<g id="R41" class="n"><rect class="y" x="1255" y="342" width="22" height="21"/><text x="1266" y="351.9">Организационная<tspan x="1266" dy="2.4">структура</tspan></text></g>
<g id="R42" class="n"><rect class="g" x="1346" y="285" width="13" height="13"/><text x="1352.5" y="290.9">Кнопка<tspan x="1352.5" dy="2.4">Открыть</tspan></text></g>
<g id="R43" class="n"><rect class="g" x="1367" y="285" width="14" height="13"/><text x="1374" y="290.9">Кнопка<tspan x="1374" dy="2.4">Отменить</tspan></text></g>
<g id="R44" class="n"><rect class="t" x="1357" y="307" width="13" height="15"/><text x="1363.5" y="313.9">Выбор<tspan x="1363.5" dy="2.4">файла</tspan></text></g>
<g id="R45" class="n"><rect class="g" x="1315" y="328" width="12" height="15"/><text x="1321" y="334.9">Кнопка<tspan x="1321" dy="2.4">Загрузить</tspan></text></g>
<g id="R46" class="n"><rect class="t" x="1336" y="328" width="12" height="15"/><text x="1342" y="334.9">Строка<tspan x="1342" dy="2.4">Поиска</tspan></text></g>
<g id="R47" class="n"><rect class="t" x="1357" y="329" width="13" height="14"/><text x="1363.5" y="335.4">Кнопка<tspan x="1363.5" dy="2.4">Загрузить</tspan></text></g>
<g id="R48" class="n"><rect class="y" x="1336" y="353" width="12" height="14"/><text x="1342" y="359.4">Загрузка<tspan x="1342" dy="2.4">файла</tspan></text></g>
<g id="R49" class="n"><rect class="b" x="1336" y="373" width="12" height="14"/><text x="1342" y="379.4">Кнопка<tspan x="1342" dy="2.4">Загрузить</tspan></text></g>

<!-- LEGEND -->
<g id="legend-window" class="lg"><rect class="y" x="570" y="552" width="68" height="71"/><text x="604" y="584" style="font-size:11px">Отдельное<tspan x="604" dy="15">окно</tspan></text></g>
<g id="legend-start" class="lg"><rect class="b" x="682" y="552" width="69" height="71"/><text x="716.5" y="576" style="font-size:9.5px">Начальный<tspan x="716.5" dy="13.5">элемент</tspan><tspan x="716.5" dy="13.5">блока</tspan></text></g>
<g id="legend-layout" class="lg"><rect class="t" x="794" y="552" width="69" height="71"/><text x="828.5" y="583" style="font-size:14px">Элемент<tspan x="828.5" dy="20">верстки</tspan></text></g>
<g id="legend-end" class="lg"><rect class="g" x="913" y="552" width="69" height="71"/><text x="947.5" y="575" style="font-size:11.5px">Конечная<tspan x="947.5" dy="17">кнопка</tspan><tspan x="947.5" dy="17">блока</tspan></text></g>
</svg>
